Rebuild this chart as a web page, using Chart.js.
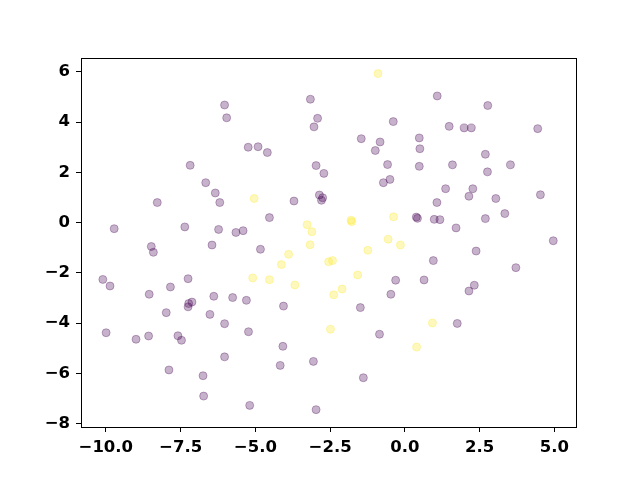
<!DOCTYPE html>
<html>
<head>
<meta charset="utf-8">
<script src="https://cdn.jsdelivr.net/npm/chart.js@4/dist/chart.umd.min.js"></script>
<style>
  html, body { margin: 0; padding: 0; background: #fff; }
  #wrap { width: 640px; height: 480px; }
</style>
</head>
<body>
<div id="wrap"><canvas id="scatter-chart" width="640" height="480"></canvas></div>
<script>
// class 0 (purple)
const purpleX = [
  -6.03, -5.96, -5.24, -7.18, -6.66, -6.34, -6.19, -8.28, -9.72, -7.36,
  -6.23, -5.65, -5.41, -6.45, -3.16, -2.92, -3.04, -0.39, -1.46, -0.83,
  -0.99, -4.91, -4.60, -2.97, -2.71, -0.58, -0.50, -0.72, -2.86,
  -2.75, -2.79, -3.71, -4.53, 1.08, 2.77, 1.48, 1.98, 2.22, 4.44,
  0.48, 0.50, 2.69, 0.48, 1.59, 3.53, 2.76, 1.36, 2.27, 2.14,
  3.04, 4.53, 1.07, 0.38, 0.42, 0.98, 1.17, 2.69, 3.34, 1.71,
  4.96, -8.48, -8.41, -10.10, -9.86, -8.55, -7.84, -7.25, -7.12, -7.23,
  -7.25, -6.39, -5.76, -5.30, -7.98, -6.52, -6.03, -9.99, -8.99, -8.57,
  -7.59, -7.47, -5.23, -6.03, -7.89, -6.75, -6.73, -5.19, -4.83, -0.31,
  -0.47, -4.06, -1.49, -0.85, -4.08, -4.17, -3.06, -1.39, -2.97, 2.38,
  0.95, 3.71, 0.64, 2.32, 2.14, 1.75
];
const purpleY = [
  4.68, 4.17, 3.00, 2.28, 1.59, 1.18, 0.80, 0.80, -0.24, -0.17,
  -0.27, -0.39, -0.32, -0.89, 4.91, 4.15, 3.81, 4.02, 3.34, 3.21,
  2.87, 3.02, 2.79, 2.27, 1.96, 2.31, 1.72, 1.59, 1.10,
  0.99, 0.89, 0.86, 0.20, 5.04, 4.66, 3.83, 3.77, 3.77, 3.74,
  3.37, 2.94, 2.72, 2.24, 2.30, 2.30, 2.02, 1.35, 1.35, 1.05,
  0.96, 1.11, 0.80, 0.22, 0.17, 0.13, 0.12, 0.16, 0.36, -0.21,
  -0.72, -0.95, -1.18, -2.26, -2.52, -2.85, -2.56, -2.23, -3.16, -3.22,
  -3.35, -2.93, -2.98, -3.09, -3.58, -3.65, -4.02, -4.38, -4.64, -4.51,
  -4.50, -4.68, -4.34, -5.34, -5.86, -6.09, -6.90, -7.27, -1.06, -2.29,
  -2.85, -3.32, -3.38, -4.44, -4.92, -5.68, -5.52, -6.17, -7.44, -1.13,
  -1.51, -1.79, -2.28, -2.49, -2.72, -4.01
];

// class 1 (yellow)
const yellowX = [
  -0.90, -5.04, -3.27, -3.11, -1.80, -1.78, -0.38, -3.17, -0.56, -0.15,
  -3.89, -4.13, -2.55, -2.42, -1.24, -5.09, -4.53, -3.68, -1.58, -2.10,
  -2.38, -2.49, 0.39, 0.92
];
const yellowY = [
  5.93, 0.96, -0.08, -0.36, 0.10, 0.04, 0.23, -0.88, -0.66, -0.89,
  -1.26, -1.67, -1.56, -1.51, -1.10, -2.20, -2.27, -2.48, -2.08, -2.64,
  -2.87, -4.24, -4.95, -3.99
];

const xTicks = [-10, -7.5, -5, -2.5, 0, 2.5, 5];
const yTicks = [-8, -6, -4, -2, 0, 2, 4, 6];

const toPoints = (xs, ys) => xs.map((x, i) => ({x: x, y: ys[i]}));
const minus = s => s.replace('-', '\u2212');

// matplotlib style full frame around the plot area
const frame = {
  id: 'frame',
  afterDraw(chart) {
    const a = chart.chartArea, ctx = chart.ctx;
    ctx.save();
    ctx.strokeStyle = '#000';
    ctx.lineWidth = 1;
    ctx.strokeRect(Math.round(a.left) + 0.5, Math.round(a.top) + 0.5,
      Math.round(a.right - a.left), Math.round(a.bottom - a.top));
    ctx.restore();
  }
};

const tickFont = {family: 'DejaVu Sans', size: 16.5, weight: 'bold'};

new Chart('scatter-chart', {
  type: 'scatter',
  data: {
    datasets: [{
      data: toPoints(purpleX, purpleY),
      backgroundColor: 'rgba(68, 1, 84, 0.3)',
      borderColor: 'rgba(68, 1, 84, 0.3)',
    }, {
      data: toPoints(yellowX, yellowY),
      backgroundColor: 'rgba(253, 231, 37, 0.3)',
      borderColor: 'rgba(253, 231, 37, 0.3)',
    }]
  },
  options: {
    responsive: false,
    animation: false,
    layout: {padding: {left: 0, top: 58, right: 64, bottom: 0}},
    elements: {point: {radius: 4, borderWidth: 1, hoverRadius: 4}},
    plugins: {legend: {display: false}, tooltip: {enabled: false}},
    scales: {
      x: {
        min: -10.83,
        max: 5.72,
        afterBuildTicks: s => { s.ticks = xTicks.map(v => ({value: v})); },
        afterFit: s => { s.height = 53; },
        border: {display: false},
        grid: {drawOnChartArea: false, drawTicks: true, tickLength: 5, color: '#000'},
        ticks: {
          color: '#000', font: tickFont, padding: 6, maxRotation: 0,
          callback: v => minus(Number(v).toFixed(1))
        }
      },
      y: {
        min: -8.13,
        max: 6.55,
        afterBuildTicks: s => { s.ticks = yTicks.map(v => ({value: v})); },
        afterFit: s => { s.width = 81; },
        border: {display: false},
        grid: {drawOnChartArea: false, drawTicks: true, tickLength: 5, color: '#000'},
        ticks: {
          color: '#000', font: tickFont, padding: 6,
          callback: v => minus(String(v))
        }
      }
    }
  },
  plugins: [frame]
});
</script>
</body>
</html>
